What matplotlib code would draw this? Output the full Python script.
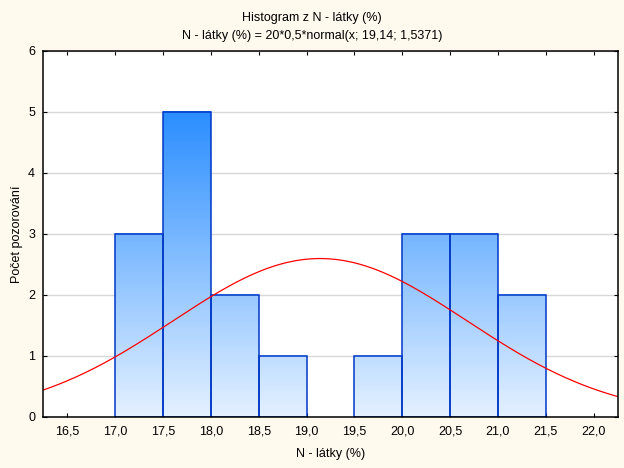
import numpy as np
import matplotlib
matplotlib.use("Agg")
import matplotlib.pyplot as plt
from matplotlib.colors import LinearSegmentedColormap, Normalize
from matplotlib.ticker import FuncFormatter

plt.rcParams['font.family'] = ['Liberation Sans', 'DejaVu Sans']
plt.rcParams['font.size'] = 9

# histogram data
bin_left = [17.0, 17.5, 18.0, 18.5, 19.0, 19.5, 20.0, 20.5, 21.0]
counts = [3, 5, 2, 1, 0, 1, 3, 3, 2]
bin_width = 0.5

# fitted normal (from title): 20*0,5*normal(x; 19,14; 1,5371)
n_obs = 20
mean = 19.14
sd = 1.5371

x_ticks = [16.5, 17.0, 17.5, 18.0, 18.5, 19.0, 19.5, 20.0, 20.5, 21.0, 21.5, 22.0]
y_ticks = [0, 1, 2, 3, 4, 5, 6]

fig = plt.figure(figsize=(6.24, 4.68), dpi=100, facecolor='#FFF9EE')
ax = fig.add_axes([0.0697, 0.109, 0.920, 0.7827])
ax.set_facecolor('white')

xmin, xmax = 16.25, 22.25
ax.set_xlim(xmin, xmax)
ax.set_ylim(0, 6)

cmap = LinearSegmentedColormap.from_list('bars', ['#E4F1FF', '#2B8EFF'])
norm = Normalize(vmin=0, vmax=5)

for x0, h in zip(bin_left, counts):
    if h == 0:
        continue
    grad = np.linspace(0, h, 100).reshape(-1, 1)
    ax.imshow(grad, extent=(x0, x0 + bin_width, 0, h), origin='lower',
              cmap=cmap, norm=norm, aspect='auto', zorder=2,
              interpolation='bilinear')
    ax.add_patch(plt.Rectangle((x0, 0), bin_width, h, fill=False,
                               edgecolor='#0038C8', linewidth=1.1, zorder=3))

# normal curve
xs = np.linspace(xmin, xmax, 300)
ys = n_obs * bin_width * np.exp(-0.5 * ((xs - mean) / sd) ** 2) / (sd * np.sqrt(2 * np.pi))
ax.plot(xs, ys, color='#FF0000', linewidth=0.9, zorder=4)

ax.set_xticks(x_ticks)
ax.set_yticks(y_ticks)
ax.xaxis.set_major_formatter(FuncFormatter(lambda v, p: f"{v:.1f}".replace('.', ',')))
ax.grid(axis='y', color='#D8D8D8', linewidth=1, zorder=1)
ax.set_axisbelow(True)
ax.tick_params(direction='in', length=3, width=0.8, top=True, right=True,
               labelsize=9, colors='black', pad=6)
ax.tick_params(axis='y', pad=6)
for s in ax.spines.values():
    s.set_linewidth(1.1)
    s.set_zorder(5)

ax.set_xlabel('N - látky (%)', fontsize=9, labelpad=8)
ax.set_ylabel('Počet pozorování', fontsize=9, labelpad=4)
fig.text(0.5, 0.961, 'Histogram z N - látky (%)', ha='center', va='center', fontsize=9)
fig.text(0.5, 0.923, 'N - látky (%) = 20*0,5*normal(x; 19,14; 1,5371)',
         ha='center', va='center', fontsize=9)

fig.savefig('out.png', dpi=100, facecolor=fig.get_facecolor())
